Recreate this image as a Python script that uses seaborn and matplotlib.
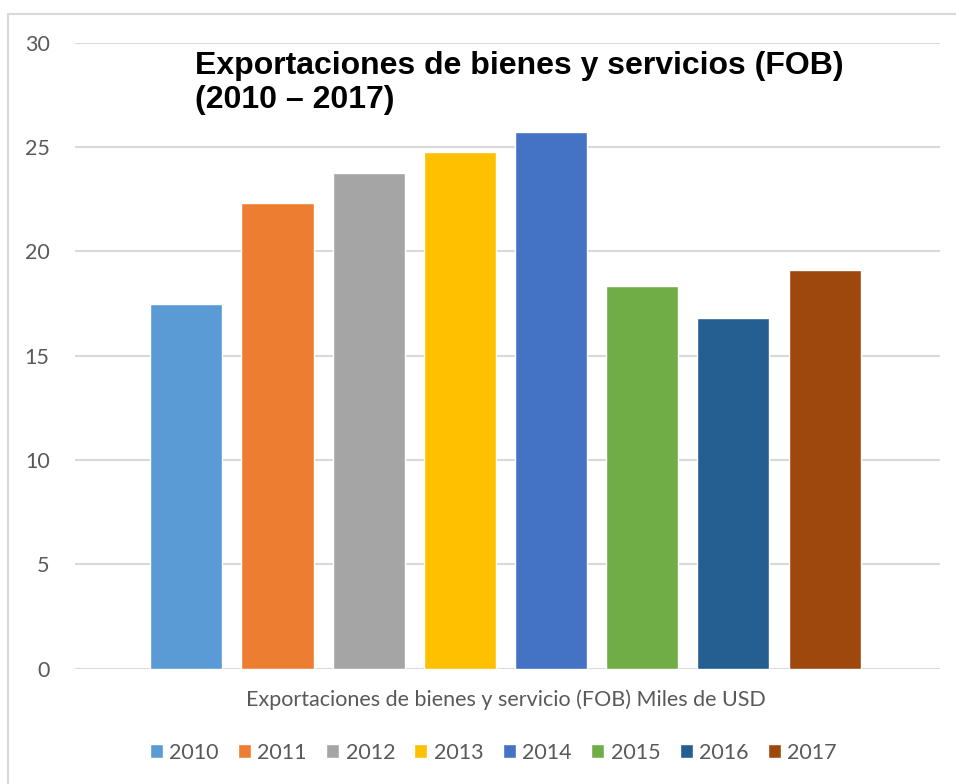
import pandas as pd
import matplotlib.pyplot as plt
import seaborn as sns
from matplotlib.patches import Rectangle

categoria = "Exportaciones de bienes y servicio (FOB) Miles de USD"
anios = ["2010", "2011", "2012", "2013", "2014", "2015", "2016", "2017"]
valores = [17.47, 22.31, 23.75, 24.76, 25.72, 18.34, 16.80, 19.10]
colores = ["#5B9BD5", "#ED7D31", "#A5A5A5", "#FFC000",
           "#4472C4", "#70AD47", "#255E91", "#9E480E"]

df = pd.DataFrame({"cat": [categoria] * len(anios), "anio": anios, "valor": valores})

sns.set_style("white")
plt.rcParams['font.family'] = ['Lato', 'DejaVu Sans']

fig = plt.figure(figsize=(9.56, 7.84), dpi=100)
ax = fig.add_axes([0.078, 0.147, 0.905, 0.7985])

sns.barplot(data=df, x="cat", y="valor", hue="anio", palette=colores,
            width=0.843, gap=0.21, saturation=1, ax=ax, legend=True)

ax.set_ylim(0, 30)
ax.set_xlim(-0.498, 0.502)
ax.set_yticks(range(0, 31, 5))
ax.yaxis.grid(True, color="#D9D9D9", linewidth=1.5)
ax.set_axisbelow(True)
for s in ax.spines.values():
    s.set_visible(False)
ax.tick_params(axis="y", length=0, pad=18, labelsize=15.5, labelcolor="#595959")
ax.tick_params(axis="x", length=0, pad=15, labelsize=15.5, labelcolor="#595959")
ax.set_xlabel("")
ax.set_ylabel("")

ax.text(0.139, 0.987, "Exportaciones de bienes y servicios (FOB)\n(2010 \u2013 2017)",
        transform=ax.transAxes, ha="left", va="top", fontsize=23,
        fontweight="bold", family=["Liberation Sans", "DejaVu Sans"],
        color="black", linespacing=1.2)

handles, labels = ax.get_legend_handles_labels()
ax.get_legend().remove()
fig.legend(handles, labels, loc="center", bbox_to_anchor=(0.516, 0.040), ncol=8,
           frameon=False, fontsize=15.5, handlelength=0.6, handleheight=0.6,
           handletextpad=0.3, columnspacing=0.9, labelcolor="#595959")

fig.patches.append(Rectangle((8 / 956, -0.1), 1.2, 1 - 14 / 784 + 0.1,
                             transform=fig.transFigure, fill=False,
                             edgecolor="#D9D9D9", linewidth=1.5))

fig.savefig("out.png", dpi=100, facecolor="white")
